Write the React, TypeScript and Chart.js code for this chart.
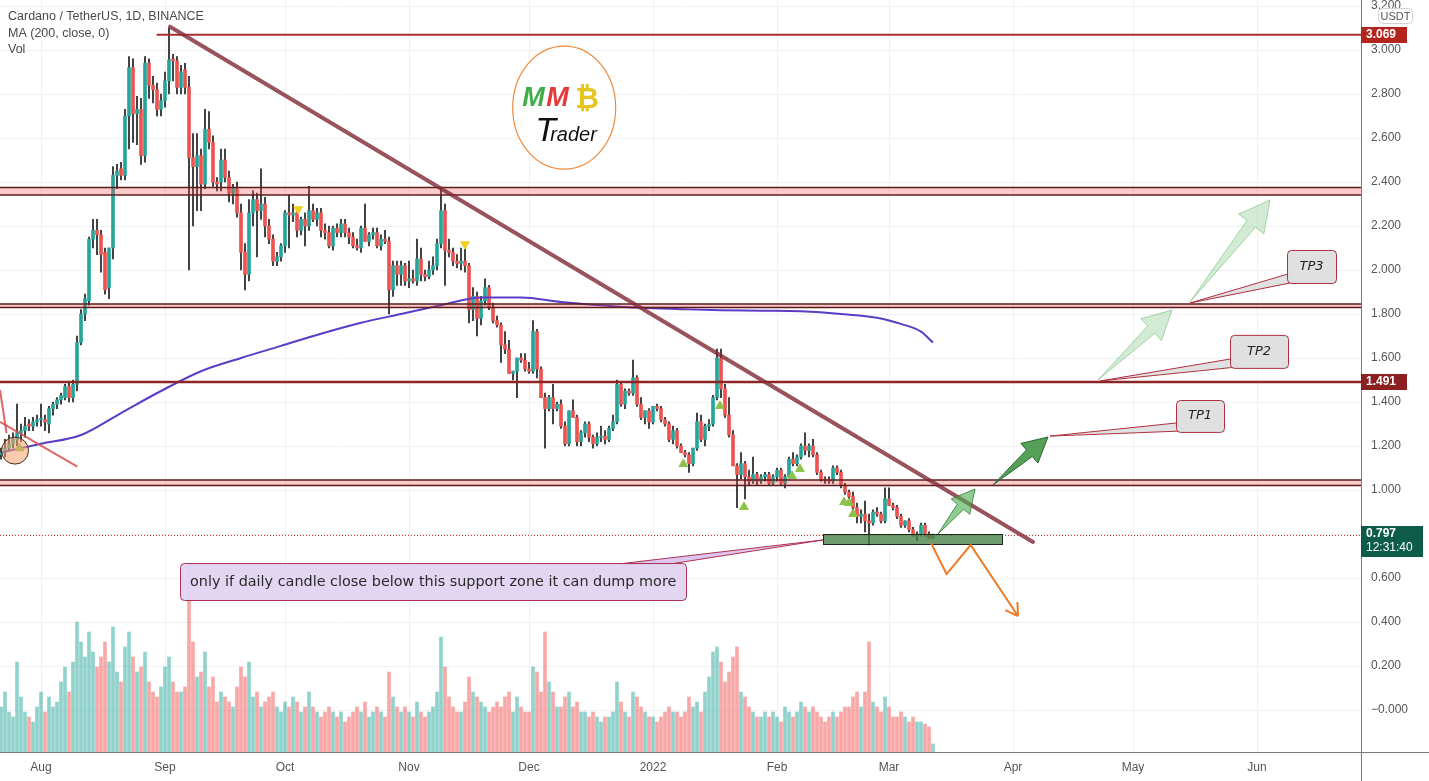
import { useEffect, useRef } from "react";
import { Chart, registerables } from "chart.js";

Chart.register(...registerables);

// ---------------- data (day 0 = 1 Aug 2021) ----------------
const START_DAY = -10;
const OPENS = [
  1.16, 1.17, 1.19, 1.21, 1.23, 1.26, 1.27, 1.30, 1.29, 1.31,
  1.32, 1.32, 1.30, 1.37, 1.39, 1.41, 1.42, 1.47, 1.42, 1.48,
  1.67, 1.80, 1.86, 2.14, 2.18, 2.16, 2.08, 1.92, 2.10, 2.43,
  2.46, 2.43, 2.70, 2.92, 2.71, 2.73, 2.52, 2.94, 2.84, 2.82,
  2.73, 2.77, 2.86, 2.96, 2.95, 2.83, 2.91, 2.83, 2.51, 2.47,
  2.52, 2.39, 2.64, 2.58, 2.40, 2.40, 2.50, 2.42, 2.35, 2.37,
  2.26, 2.08, 1.98, 2.26, 2.32, 2.27, 2.30, 2.20, 2.14, 2.04,
  2.06, 2.11, 2.26, 2.25, 2.26, 2.18, 2.23, 2.20, 2.27, 2.23,
  2.26, 2.18, 2.17, 2.11, 2.19, 2.17, 2.21, 2.17, 2.15, 2.11,
  2.10, 2.19, 2.13, 2.16, 2.17, 2.11, 2.14, 2.13, 1.91, 2.02,
  1.98, 2.02, 1.95, 1.96, 1.95, 2.05, 1.98, 1.97, 2.00, 2.02,
  2.12, 2.27, 2.09, 2.08, 2.04, 2.03, 2.04, 2.02, 1.82, 1.88,
  1.78, 1.86, 1.92, 1.83, 1.77, 1.75, 1.66, 1.64, 1.53, 1.54,
  1.60, 1.59, 1.55, 1.54, 1.72, 1.55, 1.42, 1.37, 1.42, 1.37,
  1.39, 1.29, 1.21, 1.36, 1.33, 1.22, 1.26, 1.30, 1.24, 1.21,
  1.24, 1.245, 1.23, 1.28, 1.31, 1.48, 1.39, 1.45, 1.44, 1.51,
  1.39, 1.33, 1.36, 1.31, 1.38, 1.37, 1.32, 1.30, 1.23, 1.27,
  1.20, 1.17, 1.16, 1.12, 1.19, 1.31, 1.23, 1.29, 1.30, 1.42,
  1.60, 1.46, 1.34, 1.25, 1.11, 1.07, 1.12, 1.06, 1.04, 1.07,
  1.04, 1.06, 1.07, 1.03, 1.06, 1.09, 1.03, 1.06, 1.14, 1.12,
  1.15, 1.20, 1.18, 1.20, 1.16, 1.08, 1.05, 1.045, 1.04, 1.10,
  1.08, 1.02, 0.99, 0.97, 0.92, 0.88, 0.89, 0.86, 0.85, 0.90,
  0.89, 0.86, 0.96, 0.93, 0.92, 0.88, 0.84, 0.86, 0.82, 0.79,
  0.80, 0.84, 0.80, 0.78,
];
const HIGHS = [
  1.19, 1.23, 1.25, 1.26, 1.39, 1.30, 1.33, 1.32, 1.33, 1.34,
  1.39, 1.34, 1.38, 1.40, 1.42, 1.44, 1.48, 1.49, 1.50, 1.70,
  1.82, 1.89, 2.15, 2.23, 2.23, 2.18, 2.10, 2.10, 2.47, 2.48,
  2.49, 2.73, 2.97, 2.96, 2.79, 2.78, 2.97, 2.96, 2.88, 2.85,
  2.80, 2.90, 3.10, 2.98, 2.97, 2.93, 2.94, 2.88, 2.62, 2.62,
  2.55, 2.73, 2.72, 2.61, 2.42, 2.55, 2.55, 2.45, 2.39, 2.40,
  2.30, 2.12, 2.32, 2.36, 2.35, 2.46, 2.33, 2.23, 2.16, 2.08,
  2.12, 2.27, 2.34, 2.30, 2.28, 2.24, 2.26, 2.38, 2.30, 2.28,
  2.28, 2.21, 2.20, 2.20, 2.21, 2.23, 2.23, 2.19, 2.17, 2.14,
  2.20, 2.30, 2.17, 2.19, 2.19, 2.16, 2.18, 2.15, 2.04, 2.04,
  2.04, 2.03, 2.04, 2.00, 2.14, 2.10, 2.00, 2.04, 2.06, 2.14,
  2.37, 2.30, 2.14, 2.10, 2.07, 2.10, 2.10, 2.03, 1.92, 1.90,
  1.88, 1.96, 1.93, 1.85, 1.79, 1.76, 1.72, 1.68, 1.54, 1.60,
  1.62, 1.62, 1.58, 1.77, 1.73, 1.56, 1.44, 1.43, 1.48, 1.40,
  1.41, 1.31, 1.36, 1.41, 1.34, 1.27, 1.31, 1.31, 1.25, 1.26,
  1.29, 1.27, 1.29, 1.34, 1.50, 1.49, 1.46, 1.46, 1.59, 1.52,
  1.42, 1.36, 1.37, 1.38, 1.39, 1.38, 1.33, 1.31, 1.29, 1.28,
  1.21, 1.18, 1.17, 1.19, 1.35, 1.34, 1.30, 1.32, 1.43, 1.64,
  1.64, 1.48, 1.42, 1.27, 1.12, 1.17, 1.13, 1.09, 1.15, 1.08,
  1.07, 1.08, 1.08, 1.07, 1.10, 1.10, 1.07, 1.15, 1.17, 1.16,
  1.21, 1.26, 1.21, 1.23, 1.17, 1.09, 1.06, 1.06, 1.11, 1.11,
  1.09, 1.03, 1.00, 0.99, 0.94, 0.91, 0.95, 0.89, 0.91, 0.92,
  0.90, 1.01, 1.01, 0.94, 0.93, 0.89, 0.86, 0.87, 0.83, 0.81,
  0.85, 0.85, 0.81, 0.80,
];
const LOWS = [
  1.14, 1.15, 1.18, 1.19, 1.20, 1.22, 1.24, 1.27, 1.27, 1.29,
  1.29, 1.27, 1.26, 1.34, 1.37, 1.39, 1.41, 1.40, 1.40, 1.45,
  1.66, 1.77, 1.84, 2.10, 2.07, 1.99, 1.89, 1.87, 2.05, 2.37,
  2.41, 2.41, 2.55, 2.58, 2.57, 2.48, 2.49, 2.78, 2.76, 2.70,
  2.70, 2.74, 2.80, 2.86, 2.80, 2.80, 2.80, 2.00, 2.20, 2.27,
  2.27, 2.37, 2.55, 2.38, 2.36, 2.36, 2.40, 2.31, 2.30, 2.24,
  2.00, 1.91, 1.95, 2.20, 2.06, 2.23, 2.15, 2.12, 2.02, 2.02,
  2.04, 2.08, 2.10, 2.22, 2.15, 2.16, 2.11, 2.18, 2.22, 2.20,
  2.15, 2.14, 2.10, 2.09, 2.15, 2.15, 2.15, 2.12, 2.10, 2.09,
  2.08, 2.13, 2.11, 2.14, 2.10, 2.09, 2.12, 1.80, 1.88, 1.93,
  1.93, 1.93, 1.92, 1.94, 1.93, 1.95, 1.95, 1.96, 1.98, 2.00,
  2.10, 1.93, 2.06, 2.02, 2.01, 2.00, 1.99, 1.76, 1.77, 1.70,
  1.75, 1.84, 1.82, 1.76, 1.74, 1.58, 1.62, 1.53, 1.50, 1.42,
  1.58, 1.54, 1.53, 1.53, 1.51, 1.42, 1.19, 1.36, 1.30, 1.36,
  1.28, 1.20, 1.20, 1.33, 1.20, 1.20, 1.24, 1.22, 1.19, 1.20,
  1.22, 1.21, 1.22, 1.27, 1.30, 1.38, 1.37, 1.43, 1.43, 1.38,
  1.32, 1.30, 1.28, 1.30, 1.36, 1.31, 1.29, 1.22, 1.21, 1.19,
  1.17, 1.15, 1.08, 1.11, 1.18, 1.22, 1.20, 1.27, 1.29, 1.41,
  1.42, 1.33, 1.24, 1.11, 0.92, 1.05, 0.96, 1.02, 1.03, 1.02,
  1.03, 1.04, 1.02, 1.02, 1.04, 1.02, 1.01, 1.05, 1.11, 1.11,
  1.14, 1.16, 1.15, 1.15, 1.07, 1.04, 1.03, 1.03, 1.03, 1.07,
  1.01, 0.98, 0.96, 0.91, 0.85, 0.85, 0.81, 0.75, 0.84, 0.88,
  0.85, 0.85, 0.93, 0.91, 0.87, 0.83, 0.83, 0.81, 0.79, 0.77,
  0.79, 0.79, 0.78, 0.78,
];
const CLOSES = [
  1.17, 1.19, 1.21, 1.23, 1.26, 1.27, 1.29, 1.29, 1.31, 1.32,
  1.325, 1.31, 1.37, 1.39, 1.41, 1.43, 1.47, 1.42, 1.48, 1.67,
  1.80, 1.87, 2.14, 2.18, 2.16, 2.07, 1.91, 2.10, 2.43, 2.45,
  2.43, 2.70, 2.92, 2.71, 2.73, 2.52, 2.94, 2.84, 2.82, 2.73,
  2.77, 2.86, 2.955, 2.95, 2.83, 2.90, 2.83, 2.51, 2.47, 2.52,
  2.39, 2.64, 2.58, 2.40, 2.39, 2.50, 2.42, 2.35, 2.37, 2.26,
  2.08, 1.98, 2.26, 2.32, 2.27, 2.30, 2.20, 2.14, 2.04, 2.06,
  2.11, 2.26, 2.25, 2.26, 2.18, 2.23, 2.20, 2.27, 2.23, 2.26,
  2.18, 2.17, 2.11, 2.19, 2.17, 2.21, 2.17, 2.15, 2.11, 2.10,
  2.19, 2.13, 2.16, 2.17, 2.11, 2.14, 2.13, 1.91, 2.02, 1.98,
  2.02, 1.95, 1.96, 1.95, 2.05, 1.98, 1.97, 2.00, 2.02, 2.12,
  2.27, 2.09, 2.08, 2.04, 2.03, 2.04, 2.02, 1.82, 1.88, 1.78,
  1.86, 1.92, 1.83, 1.77, 1.75, 1.66, 1.64, 1.53, 1.54, 1.60,
  1.59, 1.55, 1.54, 1.72, 1.55, 1.42, 1.37, 1.42, 1.37, 1.39,
  1.29, 1.21, 1.36, 1.33, 1.22, 1.26, 1.30, 1.24, 1.21, 1.24,
  1.245, 1.23, 1.28, 1.31, 1.48, 1.39, 1.45, 1.44, 1.51, 1.39,
  1.33, 1.36, 1.31, 1.38, 1.37, 1.32, 1.30, 1.23, 1.27, 1.20,
  1.17, 1.16, 1.12, 1.19, 1.31, 1.23, 1.29, 1.30, 1.42, 1.60,
  1.46, 1.34, 1.25, 1.11, 1.07, 1.12, 1.06, 1.04, 1.07, 1.04,
  1.06, 1.07, 1.03, 1.06, 1.09, 1.03, 1.06, 1.14, 1.12, 1.15,
  1.20, 1.18, 1.20, 1.16, 1.08, 1.05, 1.045, 1.04, 1.10, 1.08,
  1.02, 0.99, 0.97, 0.92, 0.88, 0.89, 0.86, 0.85, 0.90, 0.89,
  0.86, 0.96, 0.93, 0.92, 0.88, 0.84, 0.86, 0.82, 0.79, 0.80,
  0.84, 0.80, 0.78, 0.797,
];
// daily volume (millions ADA, estimated)
const VOLUMES = [
  90, 120, 80, 70, 180, 110, 80, 70, 60, 90,
  120, 80, 110, 90, 100, 140, 170, 120, 180, 260,
  220, 190, 240, 200, 170, 190, 220, 180, 250, 160,
  140, 210, 240, 190, 160, 170, 200, 140, 120, 110,
  130, 170, 190, 140, 120, 120, 130, 374, 220, 150,
  160, 200, 130, 150, 100, 120, 110, 100, 90, 130,
  170, 150, 180, 110, 120, 90, 100, 110, 120, 90,
  80, 100, 90, 110, 100, 80, 90, 120, 90, 80,
  70, 80, 90, 80, 70, 80, 60, 70, 80, 90,
  80, 100, 70, 80, 90, 80, 70, 160, 110, 90,
  80, 90, 80, 70, 100, 80, 70, 80, 90, 120,
  230, 170, 110, 90, 80, 80, 100, 150, 120, 110,
  100, 90, 80, 90, 100, 90, 110, 120, 80, 110,
  90, 80, 80, 170, 160, 120, 240, 140, 120, 90,
  90, 110, 120, 90, 100, 80, 80, 70, 80, 70,
  60, 70, 70, 80, 140, 100, 80, 70, 120, 110,
  90, 80, 70, 70, 60, 70, 80, 90, 80, 80,
  70, 80, 110, 90, 100, 80, 120, 150, 200, 210,
  180, 140, 160, 190, 210, 120, 110, 90, 80, 70,
  70, 80, 70, 80, 70, 60, 90, 80, 70, 80,
  100, 90, 80, 90, 80, 70, 60, 70, 80, 70,
  80, 90, 90, 110, 120, 90, 120, 220, 100, 90,
  80, 110, 90, 70, 70, 80, 70, 60, 70, 60,
  60, 56, 50, 16,
];
const MA_DAYS = [-10, 0, 10, 20, 30, 40, 50, 60, 70, 80, 90, 100, 110, 120, 130, 140, 150, 160, 170, 180, 190, 200, 210, 215, 220, 223];
const MA_VALUES = [1.17, 1.21, 1.25, 1.35, 1.45, 1.54, 1.60, 1.655, 1.71, 1.76, 1.80, 1.84, 1.875, 1.875, 1.855, 1.84, 1.828, 1.822, 1.817, 1.815, 1.812, 1.80, 1.78, 1.755, 1.72, 1.67];

const SIGNAL_DOWN_DAYS = [64.3, 106];
const SIGNAL_DOWN_PRICES = [2.276, 2.117];
const SIGNAL_UP_DAYS = [-5.4, 160.6, 169.75, 175.75, 187.75, 189.75, 200.75, 202, 203];
const SIGNAL_UP_PRICES = [1.19, 1.118, 1.382, 0.923, 1.064, 1.095, 0.945, 0.941, 0.891];

const MONTH_DAYS = [0, 31, 61, 92, 122, 153, 184, 212, 243, 273, 304];
const MONTH_LABELS = ["Aug", "Sep", "Oct", "Nov", "Dec", "2022", "Feb", "Mar", "Apr", "May", "Jun"];
const PRICE_TICKS = [0, 0.2, 0.4, 0.6, 0.8, 1.0, 1.2, 1.4, 1.6, 1.8, 2.0, 2.2, 2.4, 2.6, 2.8, 3.0, 3.2];
const PRICE_LABELS = ["−0.000", "0.200", "0.400", "0.600", "0.800", "1.000", "1.200", "1.400", "1.600", "1.800", "2.000", "2.200", "2.400", "2.600", "2.800", "3.000", "3.200"];

const LAST_PRICE = 0.797;
const LEVEL_TOP = 3.069;
const LEVEL_MID = 1.491;
const ZONES = [[2.341, 2.375], [1.829, 1.845], [1.02, 1.045]];
const TREND = [[32.25, 3.106], [248, 0.764]];

// ---------------- view ----------------
const X_MIN = -10.25;
const X_MAX = 330;
const Y_MIN = -0.1909;
const Y_MAX = 3.2273;
const VOL_MAX = 1504;
const UP = "#26a69a";
const DOWN = "#ef5350";
const FONT = "'Liberation Sans', Arial, sans-serif";
const TEXT_FONT = "'DejaVu Sans', Verdana, sans-serif";

function seg(ctx, x1, y1, x2, y2) {
  ctx.beginPath();
  ctx.moveTo(x1, y1);
  ctx.lineTo(x2, y2);
  ctx.stroke();
}

function rrect(ctx, x, y, w, h, r) {
  ctx.beginPath();
  ctx.moveTo(x + r, y);
  ctx.lineTo(x + w - r, y);
  ctx.quadraticCurveTo(x + w, y, x + w, y + r);
  ctx.lineTo(x + w, y + h - r);
  ctx.quadraticCurveTo(x + w, y + h, x + w - r, y + h);
  ctx.lineTo(x + r, y + h);
  ctx.quadraticCurveTo(x, y + h, x, y + h - r);
  ctx.lineTo(x, y + r);
  ctx.quadraticCurveTo(x, y, x + r, y);
  ctx.closePath();
}

function arrowMarker(ctx, x1, y1, x2, y2, headW, fill, stroke) {
  const dx = x2 - x1, dy = y2 - y1;
  const L = Math.hypot(dx, dy);
  const ux = dx / L, uy = dy / L, nx = -uy, ny = ux;
  const hl = Math.min(L * 0.4, headW * 0.95);
  const bx = x2 - ux * hl, by = y2 - uy * hl;
  const hw = headW / 2, sw = headW * 0.17;
  ctx.beginPath();
  ctx.moveTo(x1, y1);
  ctx.lineTo(bx + nx * sw, by + ny * sw);
  ctx.lineTo(bx + nx * hw, by + ny * hw);
  ctx.lineTo(x2, y2);
  ctx.lineTo(bx - nx * hw, by - ny * hw);
  ctx.lineTo(bx - nx * sw, by - ny * sw);
  ctx.closePath();
  ctx.fillStyle = fill;
  ctx.fill();
  ctx.strokeStyle = stroke;
  ctx.lineWidth = 1;
  ctx.stroke();
}

const overlayPlugin = {
  id: "overlay",
  beforeDraw(chart) {
    const { ctx, width, height } = chart;
    ctx.save();
    ctx.fillStyle = "#ffffff";
    ctx.fillRect(0, 0, width, height);
    ctx.restore();
  },
  afterDatasetsDraw(chart) {
    const { ctx, chartArea: a } = chart;
    const X = (d) => chart.scales.x.getPixelForValue(d);
    const Y = (p) => chart.scales.y.getPixelForValue(p);
    ctx.save();
    ctx.beginPath();
    ctx.rect(a.left, a.top, a.right - a.left, a.bottom - a.top);
    ctx.clip();

    // current price dotted line
    ctx.strokeStyle = "#e53935";
    ctx.lineWidth = 1;
    ctx.setLineDash([1, 2]);
    const yl = Math.round(Y(LAST_PRICE)) + 0.5;
    seg(ctx, a.left, yl, a.right, yl);
    ctx.setLineDash([]);

    // zones
    for (const [lo, hi] of ZONES) {
      const y1 = Y(hi), y2 = Y(lo);
      ctx.fillStyle = "rgba(239,83,80,0.30)";
      ctx.fillRect(a.left, y1, a.right - a.left, y2 - y1);
      ctx.strokeStyle = "#5e1b1b";
      ctx.lineWidth = 1.5;
      seg(ctx, a.left, y1, a.right, y1);
      seg(ctx, a.left, y2, a.right, y2);
    }

    // horizontal levels
    ctx.strokeStyle = "#a8302e";
    ctx.lineWidth = 2;
    seg(ctx, X(28.9), Y(LEVEL_TOP), a.right, Y(LEVEL_TOP));
    ctx.strokeStyle = "#8c2626";
    ctx.lineWidth = 2.5;
    seg(ctx, a.left, Y(LEVEL_MID), a.right, Y(LEVEL_MID));

    // trend line
    ctx.strokeStyle = "rgba(128,40,52,0.8)";
    ctx.lineWidth = 4;
    ctx.lineCap = "round";
    seg(ctx, X(TREND[0][0]), Y(TREND[0][1]), X(TREND[1][0]), Y(TREND[1][1]));
    ctx.lineCap = "butt";

    // small lines at the far left
    ctx.strokeStyle = "rgba(214,78,78,0.85)";
    ctx.lineWidth = 2;
    seg(ctx, X(-10.25), Y(1.455), X(-8.6), Y(1.258));
    seg(ctx, X(-10.25), Y(1.31), X(9.08), Y(1.106));

    // circle
    ctx.beginPath();
    ctx.arc(X(-6.5), Y(1.179), 13.5, 0, Math.PI * 2);
    ctx.fillStyle = "rgba(248,160,110,0.55)";
    ctx.fill();
    ctx.strokeStyle = "#3d3026";
    ctx.lineWidth = 1;
    ctx.stroke();

    // support box
    {
      const x0 = X(195.6), x1 = X(240.25), y0 = Y(0.799), y1 = Y(0.753);
      ctx.fillStyle = "rgba(70,128,70,0.78)";
      ctx.fillRect(x0, y0, x1 - x0, y1 - y0);
      ctx.strokeStyle = "#1b2b1b";
      ctx.lineWidth = 1;
      ctx.strokeRect(Math.round(x0) + 0.5, Math.round(y0) + 0.5, Math.round(x1 - x0), Math.round(y1 - y0));
    }

    // callout with pointer
    {
      const x0 = X(34.75), x1 = X(161.25), y0 = Y(0.668), y1 = Y(0.5);
      const tx = X(195.5), ty = Y(0.773);
      ctx.beginPath();
      ctx.moveTo(X(144.25), y0 + 1);
      ctx.lineTo(tx, ty);
      ctx.lineTo(X(157.25), y0 + 1);
      ctx.closePath();
      ctx.fillStyle = "rgba(214,190,236,0.85)";
      ctx.fill();
      ctx.strokeStyle = "#b03052";
      ctx.lineWidth = 1;
      ctx.stroke();
      rrect(ctx, x0 + 0.5, y0 + 0.5, x1 - x0, y1 - y0, 4);
      ctx.fillStyle = "rgba(226,212,242,0.95)";
      ctx.fill();
      ctx.strokeStyle = "#b03052";
      ctx.stroke();
      ctx.fillStyle = "#2a2a2a";
      ctx.font = `14.4px ${TEXT_FONT}`;
      ctx.textAlign = "left";
      ctx.textBaseline = "middle";
      ctx.fillText("only if daily candle close below this support zone it can dump more", x0 + 10, (y0 + y1) / 2 + 1);
    }

    // TP callouts
    const tps = [
      { label: "TP1", d0: 283.75, d1: 295.75, p0: 1.409, p1: 1.264, td: 252.25, tp: 1.245 },
      { label: "TP2", d0: 297.25, d1: 311.75, p0: 1.705, p1: 1.555, td: 264.75, tp: 1.4955 },
      { label: "TP3", d0: 311.5, d1: 323.75, p0: 2.091, p1: 1.941, td: 287.25, tp: 1.85 },
    ];
    for (const t of tps) {
      const x0 = X(t.d0), x1 = X(t.d1), y0 = Y(t.p0), y1 = Y(t.p1);
      ctx.beginPath();
      ctx.moveTo(x0 + 1, y1 - 9);
      ctx.lineTo(X(t.td), Y(t.tp));
      ctx.lineTo(x0 + 8, y1 - 1);
      ctx.closePath();
      ctx.fillStyle = "rgba(222,222,222,0.9)";
      ctx.fill();
      ctx.strokeStyle = "#b0303f";
      ctx.lineWidth = 1;
      ctx.stroke();
      rrect(ctx, x0 + 0.5, y0 + 0.5, x1 - x0, y1 - y0, 4);
      ctx.fillStyle = "rgba(222,222,222,0.95)";
      ctx.fill();
      ctx.stroke();
      ctx.fillStyle = "#222";
      ctx.font = `italic 13px ${TEXT_FONT}`;
      ctx.textAlign = "center";
      ctx.textBaseline = "middle";
      ctx.fillText(t.label, (x0 + x1) / 2, (y0 + y1) / 2);
    }

    // arrows
    arrowMarker(ctx, X(264.25), Y(1.5), X(282.75), Y(1.818), 30, "rgba(129,199,132,0.35)", "rgba(76,175,80,0.45)");
    arrowMarker(ctx, X(287.25), Y(1.855), X(307.25), Y(2.318), 32, "rgba(129,199,132,0.35)", "rgba(76,175,80,0.45)");
    arrowMarker(ctx, X(224.25), Y(0.80), X(233.5), Y(1.0045), 24, "rgba(76,175,80,0.62)", "rgba(46,125,50,0.8)");
    arrowMarker(ctx, X(238), Y(1.023), X(251.75), Y(1.241), 26, "rgba(56,142,60,0.85)", "rgba(27,94,32,0.9)");

    // orange zigzag
    {
      const zd = [222.5, 226.4, 232.4, 244.25];
      const zp = [0.759, 0.618, 0.75, 0.427];
      ctx.strokeStyle = "#ef7a22";
      ctx.lineWidth = 2;
      ctx.lineJoin = "miter";
      ctx.beginPath();
      zd.forEach((d, i) => (i === 0 ? ctx.moveTo(X(d), Y(zp[i])) : ctx.lineTo(X(d), Y(zp[i]))));
      ctx.stroke();
      const ex = X(zd[3]), ey = Y(zp[3]);
      const ang = Math.atan2(ey - Y(zp[2]), ex - X(zd[2]));
      for (const s of [-1, 1]) {
        const a2 = ang + Math.PI + s * 0.55;
        seg(ctx, ex, ey, ex + 14 * Math.cos(a2), ey + 14 * Math.sin(a2));
      }
    }

    // logo
    {
      const cx = X(130.8), cy = Y(2.738);
      ctx.beginPath();
      ctx.ellipse(cx, cy, 51.5, 61.5, 0, 0, Math.PI * 2);
      ctx.fillStyle = "#ffffff";
      ctx.fill();
      ctx.strokeStyle = "#ef8a3a";
      ctx.lineWidth = 1.2;
      ctx.stroke();
      ctx.textBaseline = "alphabetic";
      ctx.textAlign = "left";
      ctx.font = `bold italic 27px ${FONT}`;
      ctx.fillStyle = "#3fae49";
      ctx.fillText("M", cx - 42, cy - 2);
      ctx.fillStyle = "#e5393b";
      ctx.fillText("M", cx - 18, cy - 2);
      ctx.font = `bold 29px ${FONT}`;
      ctx.fillStyle = "#e6c51e";
      ctx.fillText("₿", cx + 11, cy);
      ctx.fillStyle = "#111";
      ctx.font = `italic 34px ${FONT}`;
      ctx.fillText("T", cx - 29, cy + 33);
      ctx.font = `italic 20px ${FONT}`;
      ctx.fillText("rader", cx - 14, cy + 33);
    }

    ctx.restore();
  },
  afterDraw(chart) {
    const { ctx, chartArea: a, width, height } = chart;
    const Y = (p) => chart.scales.y.getPixelForValue(p);
    ctx.save();

    // axis frame extensions
    ctx.strokeStyle = "#7b7b7b";
    ctx.lineWidth = 1;
    seg(ctx, Math.round(a.right) + 0.5, 0, Math.round(a.right) + 0.5, height);
    seg(ctx, 0, Math.round(a.bottom) + 0.5, width, Math.round(a.bottom) + 0.5);

    // header
    ctx.fillStyle = "#4a4a4a";
    ctx.font = `12.5px ${FONT}`;
    ctx.textAlign = "left";
    ctx.textBaseline = "middle";
    ctx.fillText("Cardano / TetherUS, 1D, BINANCE", 8, 17);
    ctx.fillText("MA (200, close, 0)", 8, 34);
    ctx.fillText("Vol", 8, 50);

    // price tags
    const tag = (p, bg, w, lines) => {
      const h = lines.length > 1 ? 31 : 16;
      const yc = Y(p);
      const top = lines.length > 1 ? yc - 9 : yc - 8;
      ctx.fillStyle = bg;
      ctx.fillRect(a.right, Math.round(top), w, h);
      ctx.fillStyle = "#fff";
      ctx.textAlign = "left";
      ctx.textBaseline = "middle";
      lines.forEach((t, i) => {
        ctx.font = i === 0 ? `bold 12px ${FONT}` : `12px ${FONT}`;
        ctx.fillText(t, a.right + 5, Math.round(top) + 8 + i * 14);
      });
    };
    tag(LEVEL_TOP, "#b3241f", 46, ["3.069"]);
    tag(LEVEL_MID, "#8c1f1f", 46, ["1.491"]);
    tag(LAST_PRICE, "#0d5c49", 62, ["0.797", "12:31:40"]);

    // USDT
    rrect(ctx, 1378.5, 8.5, 34, 15, 4);
    ctx.fillStyle = "#fff";
    ctx.fill();
    ctx.strokeStyle = "#cfd2d8";
    ctx.stroke();
    ctx.fillStyle = "#555";
    ctx.font = `11px ${FONT}`;
    ctx.textAlign = "center";
    ctx.fillText("USDT", 1395.5, 16.5);
    ctx.restore();
  },
};

export default function App() {
  const ref = useRef(null);
  useEffect(() => {
    const days = OPENS.map((_, i) => START_DAY + i);
    const colors = days.map((_, i) => (CLOSES[i] >= OPENS[i] ? UP : DOWN));
    const volColors = days.map((_, i) => (CLOSES[i] >= OPENS[i] ? "rgba(38,166,154,0.5)" : "rgba(239,83,80,0.5)"));
    const wickData = days.map((d, i) => ({ x: d, y: [LOWS[i], HIGHS[i]] }));
    const bodyData = days.map((d, i) => {
      const o = OPENS[i], c = CLOSES[i];
      return Math.abs(o - c) < 0.004 ? { x: d, y: [(o + c) / 2 - 0.002, (o + c) / 2 + 0.002] } : { x: d, y: [o, c] };
    });
    const volData = days.map((d, i) => ({ x: d, y: VOLUMES[i] }));
    const maData = MA_DAYS.map((d, i) => ({ x: d, y: MA_VALUES[i] }));
    const upSig = SIGNAL_UP_DAYS.map((d, i) => ({ x: d, y: SIGNAL_UP_PRICES[i] }));
    const downSig = SIGNAL_DOWN_DAYS.map((d, i) => ({ x: d, y: SIGNAL_DOWN_PRICES[i] }));

    Chart.defaults.font.family = FONT;
    const chart = new Chart(ref.current, {
      type: "bar",
      data: {
        datasets: [
          { type: "bar", data: volData, yAxisID: "yv", backgroundColor: volColors, barThickness: 3, grouped: false, order: 10, borderWidth: 0 },
          { type: "bar", data: wickData, yAxisID: "y", backgroundColor: "#1c1c1c", barThickness: 1, grouped: false, order: 5, borderWidth: 0 },
          { type: "bar", data: bodyData, yAxisID: "y", backgroundColor: colors, barThickness: 3, grouped: false, order: 4, borderWidth: 0 },
          { type: "line", data: maData, yAxisID: "y", borderColor: "#5a3cc6", borderWidth: 2, pointRadius: 0, cubicInterpolationMode: "monotone", order: 3 },
          { type: "line", data: upSig, yAxisID: "y", showLine: false, pointStyle: "triangle", pointRadius: 5, backgroundColor: "#8bc34a", borderColor: "#8bc34a", borderWidth: 1, order: 2 },
          { type: "line", data: downSig, yAxisID: "y", showLine: false, pointStyle: "triangle", rotation: 180, pointRadius: 5, backgroundColor: "#f2cf1f", borderColor: "#f2cf1f", borderWidth: 1, order: 2 },
        ],
      },
      options: {
        responsive: false,
        animation: false,
        devicePixelRatio: 1,
        layout: { padding: 0, autoPadding: false },
        plugins: { legend: { display: false }, tooltip: { enabled: false } },
        scales: {
          x: {
            type: "linear",
            min: X_MIN,
            max: X_MAX,
            offset: false,
            position: "bottom",
            afterBuildTicks: (s) => { s.ticks = MONTH_DAYS.map((v) => ({ value: v })); },
            afterFit: (s) => { s.height = 29; s.paddingLeft = 0; s.paddingRight = 0; },
            grid: { color: "#eff1f5", drawTicks: false, offset: false },
            border: { display: true, color: "#7b7b7b" },
            ticks: {
              autoSkip: false,
              maxRotation: 0,
              padding: 8,
              color: "#555",
              font: { size: 12, family: FONT },
              callback: (_v, i) => MONTH_LABELS[i],
            },
          },
          y: {
            type: "linear",
            position: "right",
            min: Y_MIN,
            max: Y_MAX,
            afterBuildTicks: (s) => { s.ticks = PRICE_TICKS.map((v) => ({ value: v })); },
            afterFit: (s) => { s.width = 68; s.paddingTop = 0; s.paddingBottom = 0; },
            grid: { color: "#eff1f5", drawTicks: false },
            border: { display: true, color: "#7b7b7b" },
            ticks: {
              padding: 10,
              color: "#555",
              font: { size: 12, family: FONT },
              callback: (_v, i) => PRICE_LABELS[i],
            },
          },
          yv: { type: "linear", display: false, min: 0, max: VOL_MAX },
        },
      },
      plugins: [overlayPlugin],
    });
    return () => chart.destroy();
  }, []);

  return (
    <div style={{ position: "fixed", left: 0, top: 0, width: 1429, height: 781, background: "#fff" }}>
      <canvas ref={ref} width={1429} height={781} style={{ display: "block" }} />
    </div>
  );
}
